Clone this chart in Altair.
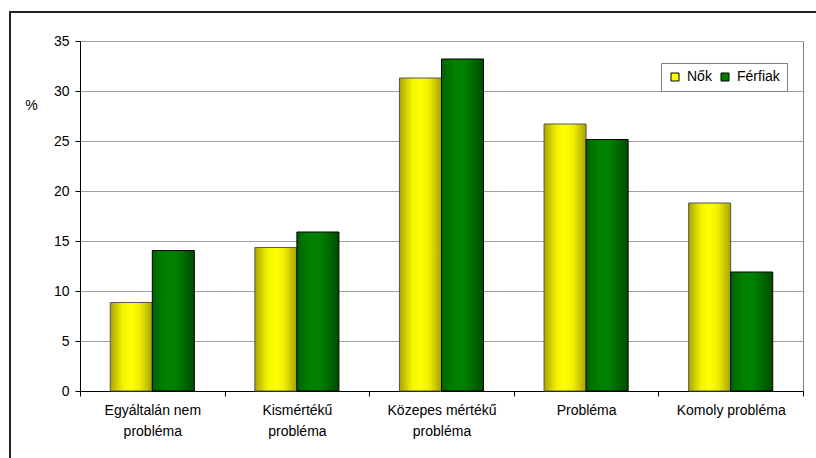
import altair as alt
import pandas as pd

categories = ["Egyáltalán nem\nprobléma", "Kismértékű\nprobléma", "Közepes mértékű\nprobléma", "Probléma", "Komoly probléma"]
series = ["Nők", "Férfiak"]
nok = [8.85, 14.35, 31.3, 26.7, 18.8]
ferfiak = [14.05, 15.9, 33.2, 25.15, 11.9]
y_ticks = [0, 5, 10, 15, 20, 25, 30, 35]

rows = []
for c, a, b in zip(categories, nok, ferfiak):
    rows.append({"cat": c, "series": series[0], "val": a})
    rows.append({"cat": c, "series": series[1], "val": b})
df = pd.DataFrame(rows)

FONT = "Liberation Sans"

grad_y = alt.Gradient(
    gradient="linear", x1=0, x2=1, y1=0, y2=0,
    stops=[alt.GradientStop(offset=0, color="#aaa400"),
           alt.GradientStop(offset=0.3, color="#f4f400"),
           alt.GradientStop(offset=0.5, color="#ffff00"),
           alt.GradientStop(offset=0.7, color="#f0ee00"),
           alt.GradientStop(offset=1, color="#a8a200")])
grad_g = alt.Gradient(
    gradient="linear", x1=0, x2=1, y1=0, y2=0,
    stops=[alt.GradientStop(offset=0, color="#006400"),
           alt.GradientStop(offset=0.3, color="#007f00"),
           alt.GradientStop(offset=0.55, color="#008000"),
           alt.GradientStop(offset=0.8, color="#006400"),
           alt.GradientStop(offset=1, color="#004a00")])

x_enc = alt.X("cat:N", sort=categories, title=None,
              scale=alt.Scale(paddingInner=0, paddingOuter=0),
              axis=alt.Axis(tickBand="extent", labelAngle=0, labelExpr="split(datum.label, '\\n')",
                            labelFont=FONT, labelFontSize=14, labelColor="#000000",
                            labelPadding=7, labelLineHeight=21, tickSize=5, tickColor="#000000",
                            domainColor="#000000", grid=False, labelLimit=200))
xo_enc = alt.XOffset("series:N", sort=series,
                     scale=alt.Scale(domain=series, paddingInner=0, paddingOuter=0.72))
y_enc = alt.Y("val:Q", title="%",
              scale=alt.Scale(domain=[0, 35], nice=False),
              axis=alt.Axis(values=y_ticks, grid=True, gridColor="#a0a0a0",
                            tickSize=5, tickColor="#000000", domainColor="#000000",
                            labelFont=FONT, labelFontSize=14, labelColor="#000000",
                            labelPadding=6,
                            titleFont=FONT, titleFontSize=14, titleFontWeight="normal",
                            titleAngle=0, titleX=-49, titleY=64, titleAlign="center",
                            titleBaseline="middle", titleColor="#000000"))

base = alt.Chart(df)

bars_n = base.transform_filter(alt.datum.series == series[0]).mark_bar(
    fill=grad_y, stroke="#555555", strokeWidth=1
).encode(x=x_enc, xOffset=xo_enc, y=y_enc)

bars_f = base.transform_filter(alt.datum.series == series[1]).mark_bar(
    fill=grad_g, stroke="#000000", strokeWidth=1
).encode(x=x_enc, xOffset=xo_enc, y=y_enc)

legend_layer = base.transform_filter("false").mark_square().encode(
    color=alt.Color("series:N",
                    scale=alt.Scale(domain=series, range=["#ffff00", "#008000"]),
                    legend=alt.Legend(title=None, orient="none", legendX=581, legendY=22,
                                      direction="horizontal", padding=7,
                                      strokeColor="#808080", fillColor="#ffffff",
                                      symbolType="square", symbolSize=64,
                                      symbolStrokeColor="#000000", symbolStrokeWidth=1,
                                      symbolOpacity=1,
                                      labelFont=FONT, labelFontSize=14, labelColor="#000000",
                                      labelOffset=5, columnPadding=6))
)

frame = alt.Chart(pd.DataFrame({"a": [0]})).mark_rect(
    fillOpacity=0, stroke="#222222", strokeWidth=2
).encode(x=alt.value(-70), x2=alt.value(900), y=alt.value(-29), y2=alt.value(600))

chart = alt.layer(frame, bars_n, bars_f, legend_layer).properties(
    width=723, height=350,
    padding={"left": 80, "top": 41, "right": 13, "bottom": 67},
    autosize=alt.AutoSizeParams(type="none"),
    background="#ffffff",
).configure_view(stroke="#808080", strokeWidth=1)

chart.save("out.html", embed_options={"renderer": "svg", "actions": False})
